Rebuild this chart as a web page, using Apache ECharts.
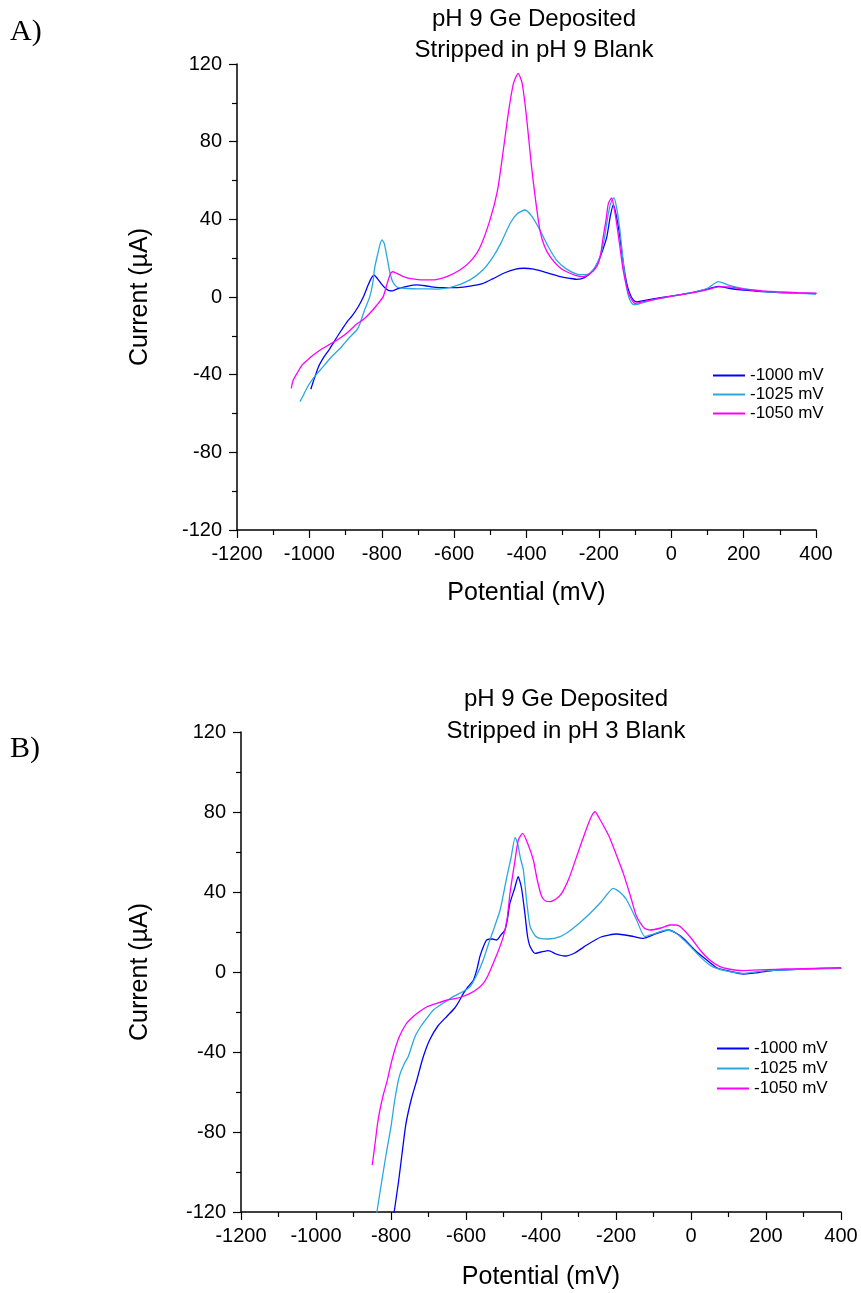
<!DOCTYPE html>
<html>
<head>
<meta charset="utf-8">
<script src="https://cdn.jsdelivr.net/npm/echarts@6/dist/echarts.min.js"></script>
<style>
html,body{margin:0;padding:0;background:#fff;}
#c{width:861px;height:1293px;}
</style>
</head>
<body>
<div id="c"></div>
<script>
// ---- data (potential mV, current uA) ----
const seriesNames = ['-1000 mV', '-1025 mV', '-1050 mV'];
const titleA = 'pH 9 Ge Deposited\nStripped in pH 9 Blank';
const titleB = 'pH 9 Ge Deposited\nStripped in pH 3 Blank';
const xRange = [-1200, 400];
const yRange = [-120, 120];

const aBlue = [[-996,-47.5],[-990,-44],[-975,-36],[-960,-31],[-946,-27.3],[-925,-21],[-911,-17],[-895,-12.5],[-883,-10],[-865,-5],[-851,0],[-838,6],[-828,10],[-821,11.3],[-812,9.5],[-800,6.5],[-790,4.5],[-780,3.3],[-770,3.2],[-755,4.3],[-730,5.5],[-703,6.2],[-680,5.8],[-650,5.0],[-600,4.8],[-556,5.6],[-520,7],[-492,9.5],[-460,12.5],[-430,14.4],[-408,14.8],[-380,14.3],[-340,12.3],[-307,10.5],[-280,9.6],[-261,9.1],[-240,10],[-215,13.9],[-200,19],[-188,25],[-178,31],[-168,42],[-160,47.4],[-152,42],[-142,31],[-133,18],[-123,7],[-115,2],[-105,-1.5],[-95,-2.5],[-80,-2],[-50,-1],[0,0.5],[50,2],[100,4],[130,5.5],[160,4.5],[200,3.5],[250,2.8],[300,2.3],[350,2],[400,1.8]];
const aCyan = [[-1026,-53.9],[-1015,-50],[-1005,-46.2],[-990,-42],[-970,-37.6],[-940,-31],[-911,-25.6],[-890,-21],[-869,-17],[-860,-13.6],[-848,-7],[-833,0.2],[-825,7],[-819,15.6],[-810,23],[-805,27],[-799,29.4],[-793,27.5],[-786,21],[-778,13],[-770,8],[-759,5.3],[-740,4.5],[-700,4.2],[-648,4.1],[-600,5.5],[-556,8.8],[-520,14],[-492,20.8],[-470,28],[-445,38],[-425,43],[-404,44.8],[-385,41.5],[-363,34.5],[-340,26],[-317,19],[-290,14.5],[-261,11.8],[-240,11.5],[-225,12.2],[-210,15.5],[-197,20.8],[-185,30],[-174,43],[-165,49.5],[-158,51],[-150,45],[-142,34.5],[-135,22],[-128,10.5],[-119,1],[-109,-3.3],[-100,-4],[-80,-3],[-50,-1.5],[0,0.3],[50,2],[100,4.5],[130,7.9],[160,6],[200,4.3],[250,3],[300,2.3],[350,1.9],[400,1.5]];
const aMagenta = [[-1050,-47],[-1045,-43],[-1034,-39.3],[-1020,-35],[-1005,-32.4],[-990,-30],[-970,-27.3],[-945,-24.5],[-922,-22],[-897,-18.7],[-870,-14],[-850,-11.5],[-833,-8.4],[-815,-4.5],[-796,0.2],[-785,7],[-776,12],[-770,13],[-760,12.3],[-740,10.5],[-720,9.5],[-685,8.8],[-650,9],[-620,10.5],[-584,13.9],[-556,18.2],[-530,25],[-501,39.6],[-480,55],[-464,75.7],[-450,95],[-436,110],[-423,115.2],[-412,110],[-400,92.8],[-386,67],[-375,50],[-363,34.5],[-350,26],[-335,20.8],[-310,15.5],[-289,13],[-265,11.2],[-243,10.5],[-225,12],[-206,15.6],[-196,21],[-188,31],[-180,40],[-174,48],[-165,51.1],[-158,46],[-151,38],[-142,26],[-133,13.9],[-123,5],[-114,0.2],[-100,-3.3],[-80,-2.5],[-31,-0.7],[0,0.5],[61,2.2],[100,3.8],[130,5.2],[160,5.2],[199,4.0],[250,3.2],[291,2.7],[350,2.2],[402,1.9]];

const bBlue = [[-793,-124],[-791.5,-120],[-780,-105],[-770,-90],[-760,-75.7],[-745,-63],[-731,-54],[-715,-43],[-697,-34],[-675,-27],[-650,-22],[-630,-18],[-618,-14.5],[-607,-10.7],[-595,-7.5],[-580,-4],[-570,2],[-563,7.7],[-553,13],[-545,16],[-530,16.5],[-518,16],[-505,19],[-496,21],[-489,27],[-483,34.3],[-470,42],[-461,47.7],[-452,42],[-443,29.3],[-436,18],[-429,12.7],[-416,9.3],[-400,10],[-380,10.7],[-360,9],[-336,8],[-310,9.5],[-278,13.5],[-240,17.5],[-198,19],[-160,18],[-127,16.8],[-95,19],[-60,21],[-40,19.5],[-20,16.8],[10,11],[42,6],[70,2],[100,0.5],[140,-1],[180,-0.3],[220,0.8],[280,1.3],[350,1.8],[400,2]];
const bCyan = [[-840,-124],[-837.6,-120],[-825,-105],[-812,-90],[-800,-77.3],[-790,-64],[-778,-52.3],[-765,-46],[-754,-42.3],[-736,-32.3],[-720,-27],[-708,-24],[-687,-19],[-660,-15.5],[-634,-12.3],[-610,-10],[-589,-7.3],[-570,-1],[-554,6],[-540,14],[-525,22],[-509,31],[-491,47.7],[-480,57],[-469,67.3],[-462,64],[-455,57],[-447,51],[-438,35],[-429,22.7],[-415,18],[-403,16.8],[-380,16.5],[-349,17.7],[-320,21],[-278,27.7],[-240,35],[-207,41.8],[-190,40],[-171.5,36],[-145,26],[-123,17.7],[-100,19],[-65,21],[-45,20],[-29,17.7],[0,12.5],[24,7.7],[50,3.5],[68.5,1.8],[100,0.3],[139.5,-0.7],[170,0],[202,0.7],[250,1.1],[290,1.3],[350,1.6],[402,1.8]];
const bMagenta = [[-850,-96.5],[-847,-92.3],[-842,-85],[-836,-76],[-829.6,-69],[-820,-61],[-812,-55.7],[-800,-46],[-790,-39],[-777.6,-32.3],[-760,-26],[-745,-23],[-731,-20.7],[-705,-17.5],[-678,-15.7],[-650,-14],[-625,-13.2],[-605,-12],[-589,-10.7],[-570,-8.5],[-554,-5.7],[-542,-2],[-531,2.7],[-515,10],[-500.5,17.7],[-490,27],[-482.7,39.3],[-470,55],[-460.5,66],[-449,69.3],[-435,64],[-420.5,56],[-410,46],[-398,37.7],[-388,35.5],[-376,35.2],[-360,36.5],[-345,39.3],[-325,47],[-305,57.7],[-280,71],[-265,78],[-256,80.2],[-245,77],[-230,72],[-216,66.8],[-200,59],[-180.5,49.3],[-160,37],[-145,27.7],[-125,22],[-109,21],[-80,22],[-56,23.5],[-40,23.5],[-29,22.7],[0,17],[24,11],[50,6],[77,2.7],[100,1.5],[139.5,0.7],[200,1.2],[250,1.5],[300,1.7],[350,1.9],[400,2]];

const colors = ['#0000ff', '#29a8e0', '#ff00ff'];
const FONT = "'Liberation Sans', Arial, sans-serif";

function xAx(gi) {
  return {
    type: 'value', gridIndex: gi, min: xRange[0], max: xRange[1], interval: 200,
    name: 'Potential (mV)', nameLocation: 'middle', nameGap: gi === 0 ? 51 : 53,
    nameTextStyle: {fontSize: 25, color: '#000', fontFamily: FONT},
    axisLine: {show: true, onZero: false, lineStyle: {color: '#000', width: 1.5}},
    axisTick: {show: true, length: 8, lineStyle: {color: '#000', width: 1.2}},
    minorTick: {show: true, splitNumber: 2, length: 5, lineStyle: {color: '#000', width: 1.2}},
    axisLabel: {fontSize: 20, color: '#000', fontFamily: FONT, margin: 14, formatter: v => String(v)},
    splitLine: {show: false}
  };
}
function yAx(gi) {
  return {
    type: 'value', gridIndex: gi, min: yRange[0], max: yRange[1], interval: 40,
    name: 'Current (\u00b5A)', nameLocation: 'middle', nameGap: gi === 0 ? 84 : 88,
    nameTextStyle: {fontSize: 25, color: '#000', fontFamily: FONT},
    axisLine: {show: true, onZero: false, lineStyle: {color: '#000', width: 1.5}},
    axisTick: {show: true, length: 8, lineStyle: {color: '#000', width: 1.2}},
    minorTick: {show: true, splitNumber: 2, length: 5, lineStyle: {color: '#000', width: 1.2}},
    axisLabel: {fontSize: 20, color: '#000', fontFamily: FONT, margin: 15, formatter: v => String(v)},
    splitLine: {show: false}
  };
}
function ser(name, data, ci, gi) {
  return {
    name: name, type: 'line', data: data, xAxisIndex: gi, yAxisIndex: gi,
    showSymbol: false, symbol: 'none', clip: true, smooth: 0.2,
    lineStyle: {color: colors[ci], width: 1.3}, itemStyle: {color: colors[ci]},
    animation: false
  };
}
function leg(left, top, gap) {
  return {
    orient: 'vertical', left: left, top: top, itemWidth: 32, itemHeight: 2, itemGap: gap,
    icon: 'rect', selectedMode: false, data: seriesNames,
    textStyle: {fontSize: 17, color: '#000', fontFamily: FONT, padding: [0,0,0,0]},
    padding: 0
  };
}

const chart = echarts.init(document.getElementById('c'), null, {renderer: 'canvas'});
chart.setOption({
  animation: false,
  backgroundColor: '#fff',
  color: colors,
  title: [
    {text: titleA, left: 529, top: -1, textAlign: 'center',
     textStyle: {fontSize: 24, fontWeight: 'normal', color: '#000', fontFamily: FONT, lineHeight: 31}},
    {text: titleB, left: 561, top: 678, textAlign: 'center',
     textStyle: {fontSize: 24, fontWeight: 'normal', color: '#000', fontFamily: FONT, lineHeight: 32}}
  ],
  graphic: [
    {type: 'text', left: 10, top: 17, style: {text: 'A)', fontSize: 30, fontFamily: "'Liberation Serif', 'Times New Roman', serif", fill: '#000'}},
    {type: 'text', left: 10, top: 734, style: {text: 'B)', fontSize: 30, fontFamily: "'Liberation Serif', 'Times New Roman', serif", fill: '#000'}}
  ],
  legend: [leg(713, 367, 2), leg(717, 1040, 3)],
  grid: [
    {left: 237, top: 64, width: 579, height: 466, containLabel: false},
    {left: 241, top: 732, width: 600, height: 480, containLabel: false}
  ],
  xAxis: [xAx(0), xAx(1)],
  yAxis: [yAx(0), yAx(1)],
  series: [
    ser(seriesNames[0], aBlue, 0, 0), ser(seriesNames[1], aCyan, 1, 0), ser(seriesNames[2], aMagenta, 2, 0),
    ser(seriesNames[0], bBlue, 0, 1), ser(seriesNames[1], bCyan, 1, 1), ser(seriesNames[2], bMagenta, 2, 1)
  ]
});
</script>
</body>
</html>
